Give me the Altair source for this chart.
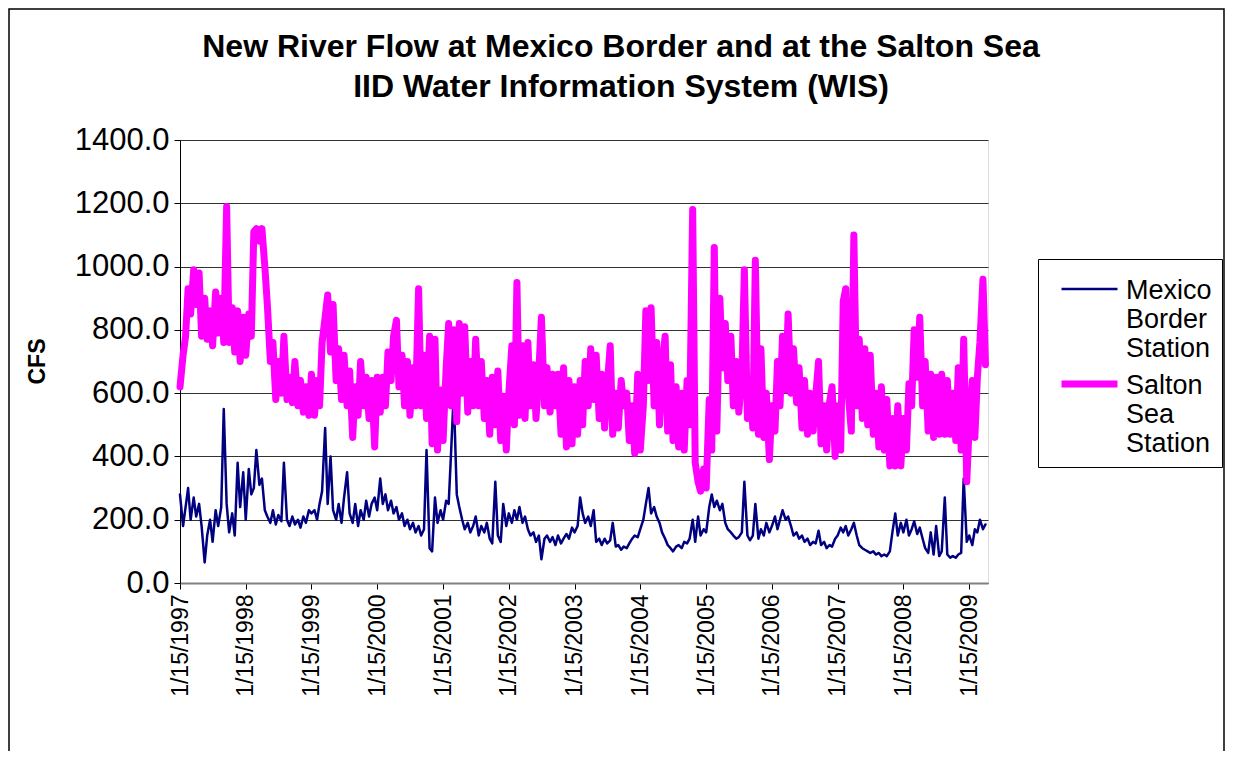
import altair as alt
import pandas as pd

SERIES = ["Mexico Border Station", "Salton Sea Station"]
COLORS = ["#000080", "#FF00FF"]
START = "1997-01-15"
YEAR_TICKS = list(range(1997, 2010))
Y_TICKS = [0, 200, 400, 600, 800, 1000, 1200, 1400]

# semi-monthly readings (1st / 15th of each month), CFS
SALTON = [
    620, 720, 780, 930, 850, 990, 880, 980, 780, 900, 770, 860, 750, 920, 790, 900,
    760, 1190, 760, 870, 730, 860, 700, 840, 720, 850, 780, 1110, 1120, 1080, 1120, 1000,
    880, 700, 760, 580, 700, 600, 780, 580, 650, 570, 700, 560, 640, 540, 620, 530,
    660, 530, 640, 560, 760, 840, 910, 730, 880, 640, 740, 580, 720, 560, 670, 460,
    620, 530, 700, 560, 650, 520, 640, 430, 650, 540, 650, 560, 730, 640, 780, 830,
    620, 720, 560, 700, 530, 680, 560, 930, 560, 720, 520, 780, 440, 770, 420, 610,
    450, 680, 820, 560, 800, 510, 820, 600, 810, 540, 700, 560, 770, 560, 700, 520,
    640, 470, 650, 500, 670, 450, 590, 420, 600, 750, 500, 950, 530, 750, 520, 760,
    560, 690, 520, 670, 840, 560, 680, 540, 660, 560, 660, 470, 680, 430, 640, 440,
    620, 470, 640, 500, 700, 560, 740, 580, 720, 520, 660, 490, 620, 750, 470, 600,
    490, 640, 560, 600, 450, 560, 410, 660, 420, 560, 860, 640, 870, 560, 760, 500,
    680, 780, 480, 690, 450, 620, 430, 600, 420, 640, 500, 1180, 380, 320, 290, 360,
    300, 580, 420, 1060, 480, 900, 680, 820, 640, 780, 560, 700, 540, 650, 990, 520,
    640, 490, 1020, 470, 740, 460, 600, 390, 560, 480, 700, 560, 780, 610, 850, 600,
    740, 570, 680, 490, 640, 470, 600, 480, 590, 700, 440, 560, 420, 570, 620, 400,
    560, 420, 890, 930, 600, 480, 1100, 560, 770, 520, 740, 500, 720, 470, 600, 430,
    620, 420, 580, 370, 520, 370, 560, 370, 520, 420, 630, 560, 800, 650, 840, 560,
    700, 480, 660, 460, 650, 470, 660, 470, 640, 470, 600, 450, 680, 420, 770, 320,
    500, 640, 460, 650, 760, 960, 690,
]

MEXICO = [
    280, 180, 240, 300, 200, 270, 210, 250, 180, 65, 150, 200, 130, 230, 180, 240,
    550, 250, 160, 220, 150, 380, 240, 350, 200, 360, 280, 300, 420, 310, 330, 230,
    210, 190, 230, 185, 215, 195, 380, 200, 180, 210, 185, 200, 175, 210, 190, 230,
    220, 230, 200, 250, 290, 490, 250, 400, 230, 200, 250, 190, 270, 350, 220, 190,
    250, 180, 230, 200, 260, 210, 250, 270, 230, 330, 250, 280, 230, 260, 220, 240,
    200, 220, 180, 200, 170, 190, 160, 180, 150, 170, 420, 110, 100, 270, 190, 230,
    200, 260, 250, 420, 600, 280, 240, 200, 170, 190, 160, 180, 210, 150, 180, 160,
    190, 140, 125, 320, 150, 130, 250, 180, 220, 190, 230, 200, 240, 190, 210, 170,
    150, 160, 130, 150, 75, 140, 150, 130, 145, 120, 150, 125, 140, 155, 140, 175,
    160, 180, 270, 220, 190, 210, 180, 230, 130, 140, 120, 140, 125, 135, 190, 115,
    120, 105, 115, 110, 125, 140, 150, 145, 170, 200, 250, 300, 220, 240, 210, 190,
    160, 140, 120, 110, 100, 115, 120, 110, 130, 125, 140, 200, 130, 210, 150, 170,
    160, 240, 280, 240, 260, 230, 250, 190, 170, 160, 150, 140, 145, 160, 320, 150,
    135, 150, 250, 140, 170, 150, 190, 160, 180, 210, 170, 200, 230, 200, 210, 180,
    150, 160, 140, 150, 130, 140, 120, 130, 125, 165, 120, 130, 110, 120, 115, 140,
    150, 175, 160, 180, 150, 170, 190, 150, 120, 110, 105, 100, 95, 100, 90, 95,
    85, 90, 85, 100, 160, 220, 150, 190, 160, 200, 150, 170, 195, 155, 175, 140,
    110, 95, 160, 90, 180, 85, 100, 270, 90, 80, 85, 80, 90, 95, 330, 130,
    150, 120, 170, 160, 200, 170, 185,
]

n = min(len(SALTON), len(MEXICO))
dates = pd.date_range(START, periods=n, freq="SMS")
df = pd.concat([
    pd.DataFrame({"date": dates, "cfs": MEXICO[:n], "station": SERIES[0]}),
    pd.DataFrame({"date": dates, "cfs": SALTON[:n], "station": SERIES[1]}),
], ignore_index=True)

FONT = "Liberation Sans"

x_enc = alt.X(
    "date:T",
    scale=alt.Scale(
        domain=[alt.DateTime(year=1997, month=1, date=15), alt.DateTime(year=2009, month=4, date=29)],
        nice=False,
    ),
    axis=alt.Axis(
        values=[alt.DateTime(year=y, month=1, date=15) for y in YEAR_TICKS],
        labelExpr="timeFormat(datum.value, '%-m/%-d/%Y')",
        labelAngle=-90,
        labelFontSize=23,
        labelFont=FONT,
        labelColor="black",
        labelPadding=5,
        tickSize=6,
        tickColor="black",
        domainColor="#808080",
        domainWidth=2,
        grid=False,
        title=None,
        labelOverlap=False,
    ),
)
y_enc = alt.Y(
    "cfs:Q",
    scale=alt.Scale(domain=[0, 1400], nice=False),
    axis=alt.Axis(
        values=Y_TICKS,
        format=".1f",
        labelFontSize=31,
        labelFont=FONT,
        labelColor="black",
        labelPadding=5,
        tickSize=6,
        tickColor="black",
        domainColor="black",
        grid=True,
        gridColor="#333333",
        gridWidth=1,
        title="CFS",
        titleFont=FONT,
        titleFontSize=23,
        titleFontWeight="bold",
        titleColor="black",
        titleX=-143,
        titleY=221,
        titleAngle=-90,
        titleAlign="center",
        titleBaseline="middle",
    ),
)

color_enc = alt.Color(
    "station:N",
    scale=alt.Scale(domain=SERIES, range=COLORS),
    legend=alt.Legend(
        title=None,
        orient="none",
        legendX=858,
        legendY=119,
        direction="vertical",
        labelFontSize=27,
        labelFont=FONT,
        labelColor="black",
        labelExpr="split(datum.label, ' ')",
        labelBaseline="alphabetic",
        labelLimit=0,
        labelOffset=5,
        symbolType="M-1,-0.34L1,-0.34",
        symbolSize=3136,
        symbolOffset=10,
        rowPadding=0,
        strokeColor="black",
        fillColor="white",
        padding=10,
    ),
)
width_enc = alt.StrokeWidth(
    "station:N",
    scale=alt.Scale(domain=SERIES, range=[2.5, 7]),
)

base = alt.Chart(df).mark_line(strokeJoin="round", strokeCap="round").encode(
    x=x_enc, y=y_enc, color=color_enc, strokeWidth=width_enc
)
navy = base.transform_filter(alt.datum.station == SERIES[0])
pink = base.transform_filter(alt.datum.station == SERIES[1])

# outer chart-area border (decoration, pixel offsets from the plot origin)
frame = alt.Chart(pd.DataFrame({"f": [0]})).mark_rect(
    fill=None, stroke="black", strokeWidth=1.5, clip=False
).encode(
    x=alt.value(-171), x2=alt.value(1044), y=alt.value(-131), y2=alt.value(640)
)

chart = alt.layer(frame, navy, pink).properties(
    width=808,
    height=443,
    autosize=alt.AutoSizeParams(type="none"),
    padding={"left": 172, "top": 132, "right": 237, "bottom": 168},
    title=alt.TitleParams(
        text=["New River Flow at Mexico Border and at the Salton Sea",
              "IID Water Information System (WIS)"],
        font=FONT,
        fontSize=32,
        fontWeight="bold",
        color="black",
        anchor="middle",
        dx=37,
        offset=-96,
        lineHeight=40,
    ),
).configure_view(stroke="#808080", strokeWidth=2).configure(background="white")

chart.save("out.html", embed_options={"renderer": "svg", "actions": False})
